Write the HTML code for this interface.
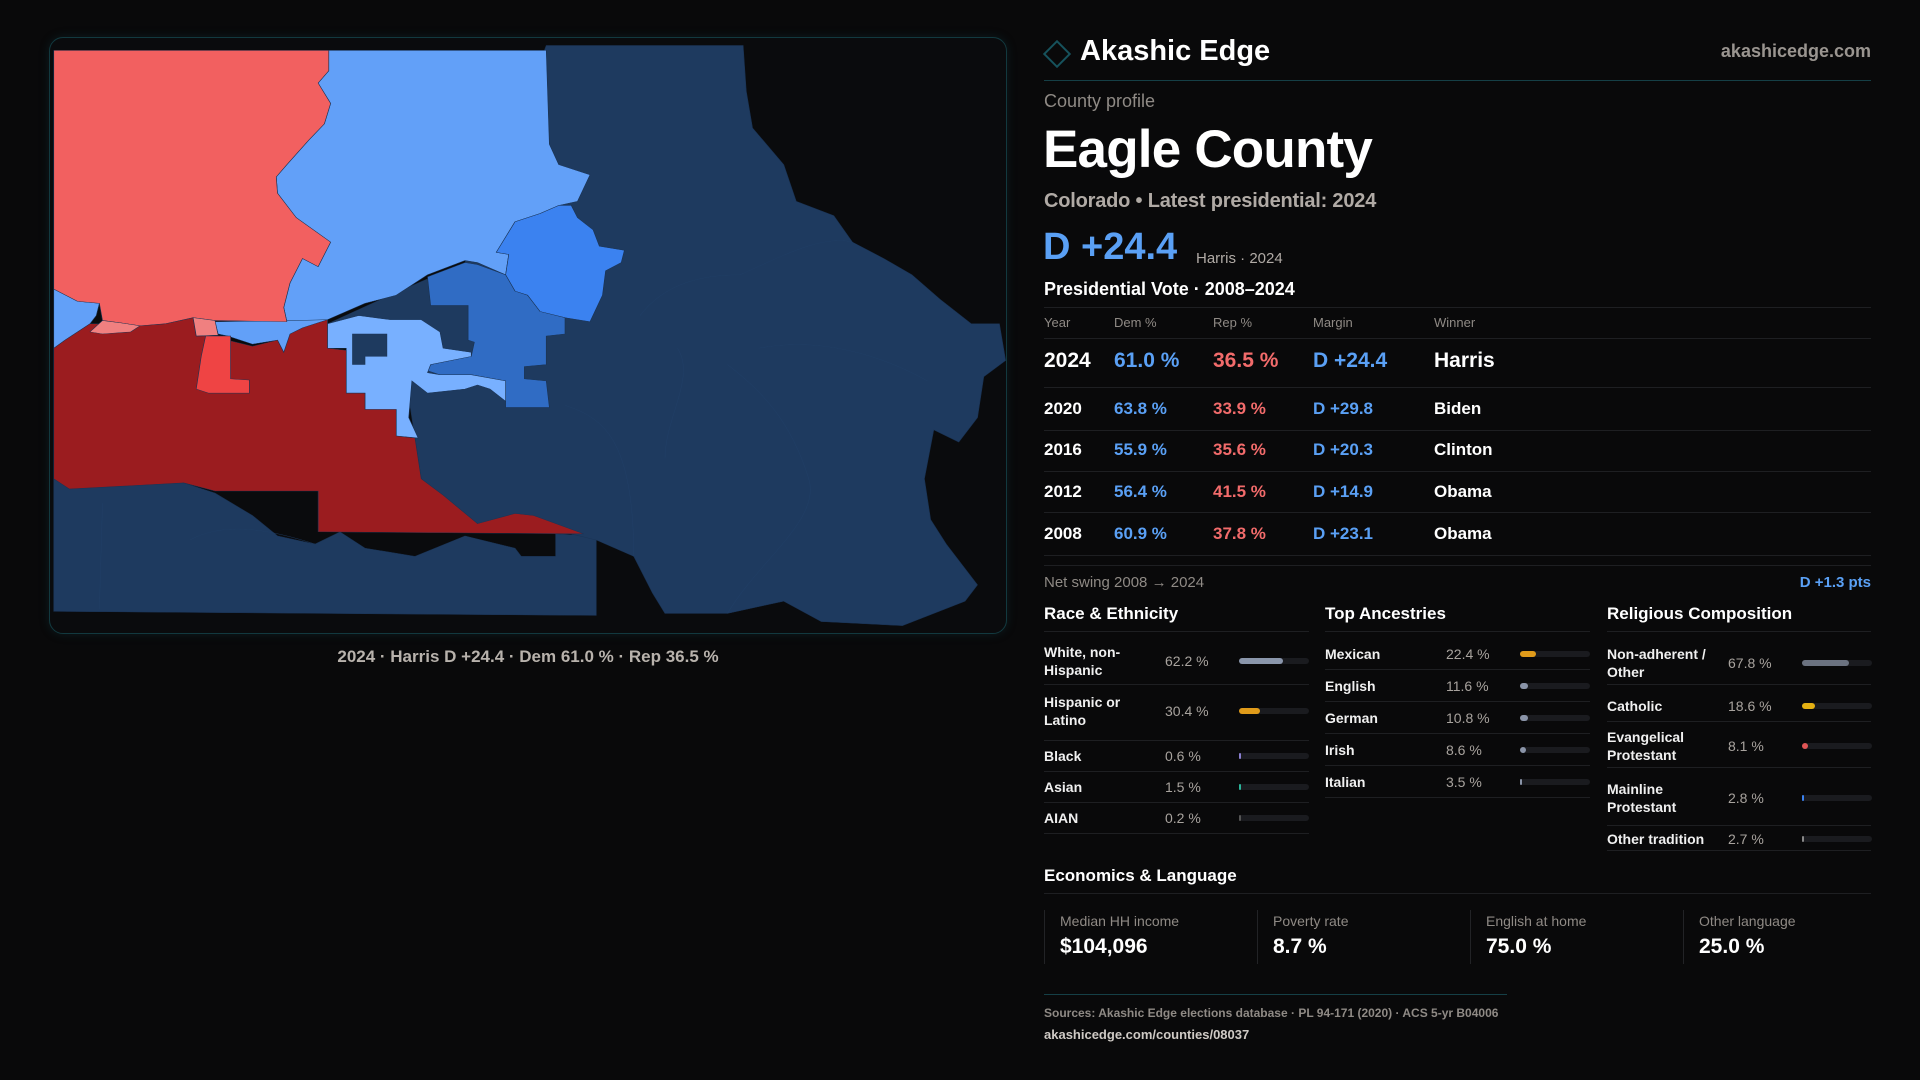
<!DOCTYPE html>
<html><head><meta charset="utf-8"><title>Eagle County profile</title>
<style>
*{margin:0;padding:0;box-sizing:border-box}
body{width:1920px;height:1080px;background:#09090a;font-family:"Liberation Sans",sans-serif;color:#fff;position:relative;overflow:hidden}
.a{position:absolute;white-space:nowrap}
.g{color:#8f8a85}
.line{position:absolute;height:1px;background:#1e1f22}
.lbl{font-size:14px;font-weight:bold;color:#f0f0f0;line-height:18px}
.val{font-size:14px;color:#a8a39e}
.trk{position:absolute;height:6px;border-radius:3px;background:#1a1b1f}
.fil{position:absolute;left:0;top:0;height:6px;border-radius:3px}
</style></head><body>
<div style="position:absolute;left:49px;top:37px;width:958px;height:597px;border:1px solid #12393f;border-radius:14px;background:#0a0b0d;box-shadow:0 0 10px rgba(20,80,90,0.25)"></div>
<svg width="1920" height="1080" style="position:absolute;left:0;top:0">
<g transform="translate(40 30) scale(0.625 0.408)" stroke="#1a3354" stroke-width="1">
<polygon fill="#1e3a5f" points="22,1100 230,1110 280,1135 340,1190 380,1240 440,1260 480,1230 520,1270 600,1290 680,1240 760,1270 770,1290 825,1290 825,1235 890,1240 890,1435 22,1425"/>
<polygon fill="#1e3a5f" points="810,38 1125,38 1130,150 1140,240 1190,330 1210,420 1270,455 1300,520 1350,560 1395,600 1440,660 1490,720 1535,720 1545,810 1510,850 1500,950 1470,1010 1430,980 1415,1100 1425,1200 1450,1260 1500,1360 1480,1400 1380,1460 1250,1450 1190,1400 1100,1430 1000,1430 980,1380 950,1290 890,1250 850,1235 700,1210 645,1160 610,1100 590,900 460,720 560,650 680,570"/>
<g fill="none" stroke="#213f66" stroke-width="1">
<path d="M960,700 C1000,620 1060,600 1120,600 M1120,600 C1180,560 1250,500 1300,520 M1020,780 C1050,850 1000,950 1000,1050 M1100,820 C1150,880 1200,950 1230,1100 M1230,1100 C1250,1200 1150,1300 1100,1430 M1150,780 C1250,750 1350,800 1420,860 M840,920 C900,950 950,1000 950,1290 M100,1160 L95,1420 M240,1250 C300,1200 380,1230 440,1260"/>
</g>
<polygon fill="#62a0f8" points="462,50 810,50 815,280 830,330 880,355 860,420 830,430 800,450 760,470 740,520 730,545 750,550 745,600 700,570 680,565 620,600 570,650 520,670 460,710 395,715 390,680 400,620 420,560 445,580 465,520 410,460 380,400 378,360 395,330 430,270 455,230 465,180 445,130 462,100"/>
<polygon fill="#62a0f8" points="22,635 60,665 95,670 90,700 80,720 40,760 22,780"/>
<polygon fill="#62a0f8" points="280,715 410,712 460,710 460,740 420,760 390,790 380,760 340,770 300,750 285,745"/>
<polygon fill="#3b82f0" points="760,470 800,450 830,430 850,430 860,460 885,490 895,530 935,540 930,570 905,590 900,650 880,715 840,705 800,690 780,650 760,640 745,600 750,550 730,545 740,520"/>
<polygon fill="#306cc4" points="620,605 680,570 700,575 745,600 760,640 780,650 800,690 840,705 840,745 810,750 810,820 775,825 775,855 810,860 815,925 745,925 745,860 690,845 640,845 620,835 625,820 690,800 695,765 685,760 685,675 625,675"/>
<polygon fill="#78b0ff" points="460,720 510,700 560,710 610,710 640,740 645,780 690,790 690,800 625,820 620,840 640,845 690,845 745,860 745,910 720,880 700,870 680,880 620,890 595,860 590,950 605,1000 570,995 570,930 520,930 520,890 490,890 490,780 460,780"/>
<polygon fill="#1e3a5f" points="500,745 555,745 555,800 520,800 520,820 500,820"/>
<polygon fill="#9b1c1f" points="22,780 40,760 80,720 110,720 160,725 200,720 245,705 250,750 290,750 300,760 340,775 380,760 390,790 400,745 420,730 460,710 460,780 490,785 490,890 520,890 520,930 570,930 570,995 600,1000 610,1100 645,1140 700,1210 760,1185 790,1190 870,1235 445,1230 445,1130 280,1130 230,1110 47,1125 22,1100"/>
<polygon fill="#ef4444" points="265,750 305,750 305,855 335,858 335,890 270,890 250,880 258,800"/>
<polygon fill="#f26060" points="22,50 462,50 462,100 445,130 465,180 455,230 430,270 395,330 378,360 380,400 410,460 465,520 445,580 420,560 400,620 390,680 395,715 280,712 245,705 200,720 160,725 130,718 100,712 95,670 60,665 22,635"/>
<polygon fill="#f08080" points="80,740 100,712 130,718 160,725 145,740 100,745"/>
<polygon fill="#f08080" points="245,705 280,712 285,748 250,750"/>
</g>
</svg>
<div class="a" style="left:0;width:1056px;top:647px;text-align:center;font-size:17px;font-weight:bold;color:#b8b2ac">2024 · Harris D +24.4 · Dem 61.0 % · Rep 36.5 %</div>

<div style="position:absolute;left:1047px;top:44px;width:20px;height:20px;border:2px solid #16525c;transform:rotate(45deg)"></div>
<div class="a" style="left:1080px;top:35px;font-size:29px;font-weight:bold">Akashic Edge</div>
<div class="a" style="right:49px;top:41px;font-size:18px;font-weight:bold;color:#9a9590">akashicedge.com</div>
<div class="line" style="left:1044px;width:827px;top:80px;background:#153f46"></div>
<div class="a g" style="left:1044px;top:91px;font-size:18px">County profile</div>
<div class="a" style="left:1043px;top:119px;font-size:53px;font-weight:bold;letter-spacing:-0.8px">Eagle County</div>
<div class="a" style="left:1044px;top:190px;font-size:20px;font-weight:bold;color:#b0aaa5;letter-spacing:-0.2px">Colorado • Latest presidential: 2024</div>
<div class="a" style="left:1043px;top:226px;font-size:38px;font-weight:bold;color:#5aa0f5">D +24.4</div>
<div class="a" style="left:1196px;top:250px;font-size:15px;color:#b0aaa5">Harris · 2024</div>
<div class="a" style="left:1044px;top:279px;font-size:18px;font-weight:bold">Presidential Vote · 2008–2024</div>
<div class="line" style="left:1044px;width:827px;top:307px"></div>
<div style="position:absolute;left:0;top:315px;font-size:13px;color:#8f8a85">
<span class="a" style="left:1044px">Year</span><span class="a" style="left:1114px">Dem %</span><span class="a" style="left:1213px">Rep %</span><span class="a" style="left:1313px">Margin</span><span class="a" style="left:1434px">Winner</span></div>
<div class="line" style="left:1044px;width:827px;top:338px"></div>
<div id="rows"></div>
<div class="line" style="left:1044px;width:827px;top:565px"></div>
<div class="a g" style="left:1044px;top:574px;font-size:15px">Net swing 2008 → 2024</div>
<div class="a" style="right:49px;top:574px;font-size:15px;font-weight:bold;color:#5aa0f5">D +1.3 pts</div>

<div class="a" style="left:1044px;top:604px;font-size:17px;font-weight:bold">Race &amp; Ethnicity</div>
<div class="a" style="left:1325px;top:604px;font-size:17px;font-weight:bold">Top Ancestries</div>
<div class="a" style="left:1607px;top:604px;font-size:17px;font-weight:bold">Religious Composition</div>
<div class="line" style="left:1044px;width:265px;top:631px"></div>
<div class="line" style="left:1325px;width:265px;top:631px"></div>
<div class="line" style="left:1607px;width:264px;top:631px"></div>
<div id="demo"></div>

<div class="a" style="left:1044px;top:866px;font-size:17px;font-weight:bold">Economics &amp; Language</div>
<div class="line" style="left:1044px;width:827px;top:893px"></div>
<div id="cards"></div>
<div class="line" style="left:1044px;width:463px;top:994px;background:#153f46"></div>
<div class="a g" style="left:1044px;top:1006px;font-size:12px;font-weight:bold">Sources: Akashic Edge elections database · PL 94-171 (2020) · ACS 5-yr B04006</div>
<div class="a" style="left:1044px;top:1027px;font-size:13px;font-weight:bold;color:#cfcac5">akashicedge.com/counties/08037</div>

<script>
const years=["2024","2020","2016","2012","2008"];
const demPct=[61.0,63.8,55.9,56.4,60.9];
const repPct=[36.5,33.9,35.6,41.5,37.8];
const margins=[24.4,29.8,20.3,14.9,23.1];
const winners=["Harris","Biden","Clinton","Obama","Obama"];
const rowsEl=document.getElementById('rows');
const rowY=[362,409,450,492,534];
years.forEach((y,i)=>{
  const big=i===0, fs=big?21:17, top=rowY[i]-fs*0.6;
  const m=margins[i];
  const cells=[[y,1044,'#fff','year'],[demPct[i].toFixed(1)+' %',1114,'#5aa0f5','dem'],[repPct[i].toFixed(1)+' %',1213,'#f26b6b','rep'],[(m>=0?'D +':'R +')+Math.abs(m).toFixed(1),1313,'#5aa0f5','margin'],[winners[i],1434,'#fff','winner']];
  cells.forEach(c=>{
    const d=document.createElement('div');d.className='a';
    
    
    d.style.cssText=`left:${c[1]}px;top:${top}px;font-size:${fs}px;font-weight:bold;color:${c[2]}`;
    d.textContent=c[0];rowsEl.appendChild(d);
  });
  const ln=document.createElement('div');ln.className='line';
  
  
  ln.style.cssText=`left:1044px;width:827px;top:${[387,430,471,512,555][i]}px`;rowsEl.appendChild(ln);
});
const raceLabels=["White, non-<br>Hispanic","Hispanic or<br>Latino","Black","Asian","AIAN"];
const raceVals=[62.2,30.4,0.6,1.5,0.2];
const raceColors=["#8a96ab","#e09b1a","#8a7fd0","#2bb59a","#555"];
const ancLabels=["Mexican","English","German","Irish","Italian"];
const ancVals=[22.4,11.6,10.8,8.6,3.5];
const ancColors=["#e09b1a","#8a94a8","#8a94a8","#8a94a8","#8a94a8"];
const relLabels=["Non-adherent /<br>Other","Catholic","Evangelical<br>Protestant","Mainline<br>Protestant","Other tradition"];
const relVals=[67.8,18.6,8.1,2.8,2.7];
const relColors=["#6b7280","#e4b012","#e05555","#3b82f0","#888"];
const demo=document.getElementById('demo');
function col(name,labels,vals,colors,x,vx,bx,ys,lines){
  labels.forEach((l,i)=>{
    const a=document.createElement('div');a.className='a lbl';
    
    
    const two=l.includes('<br>');
    a.style.cssText=`left:${x}px;top:${ys[i]-(two?18:9)}px`;a.innerHTML=l;demo.appendChild(a);
    const v=document.createElement('div');v.className='a val';
    
    
    v.style.cssText=`left:${vx}px;top:${ys[i]-8}px`;v.textContent=vals[i].toFixed(1)+' %';demo.appendChild(v);
    const t=document.createElement('div');t.className='trk';
    
    
    t.style.cssText=`left:${bx}px;top:${ys[i]-3}px;width:70px`;
    const f=document.createElement('div');f.className='fil';
    f.style.width=Math.max(2,vals[i]/100*70)+'px';f.style.background=colors[i];
    t.appendChild(f);demo.appendChild(t);
    const ln=document.createElement('div');ln.className='line';
    
    
    ln.style.cssText=`left:${x}px;width:${name==='religion'?264:265}px;top:${lines[i]}px`;demo.appendChild(ln);
  });
}
col('race',raceLabels,raceVals,raceColors,1044,1165,1239,[661,711,756,787,818],[684,740,771,802,833]);
col('ancestry',ancLabels,ancVals,ancColors,1325,1446,1520,[654,686,718,750,782],[669,701,733,765,797]);
col('religion',relLabels,relVals,relColors,1607,1728,1802,[663,706,746,798,839],[684,721,767,825,850]);
const cardLabels=["Median HH income","Poverty rate","English at home","Other language"];
const cardVals=["$104,096","8.7 %","75.0 %","25.0 %"];
const cards=document.getElementById('cards');
cardLabels.forEach((l,i)=>{
  const x=1044+i*213;
  const c=document.createElement('div');
  
  
  c.style.cssText=`position:absolute;left:${x}px;top:910px;width:200px;height:54px;border-left:1px solid #222326`;
  c.innerHTML=`<div style="position:absolute;left:15px;top:3px;font-size:14px;color:#8f8a85;white-space:nowrap">${l}</div><div style="position:absolute;left:15px;top:25px;font-size:21px;font-weight:bold;color:#fff;white-space:nowrap">${cardVals[i]}</div>`;
  cards.appendChild(c);
});
</script>
</body></html>
